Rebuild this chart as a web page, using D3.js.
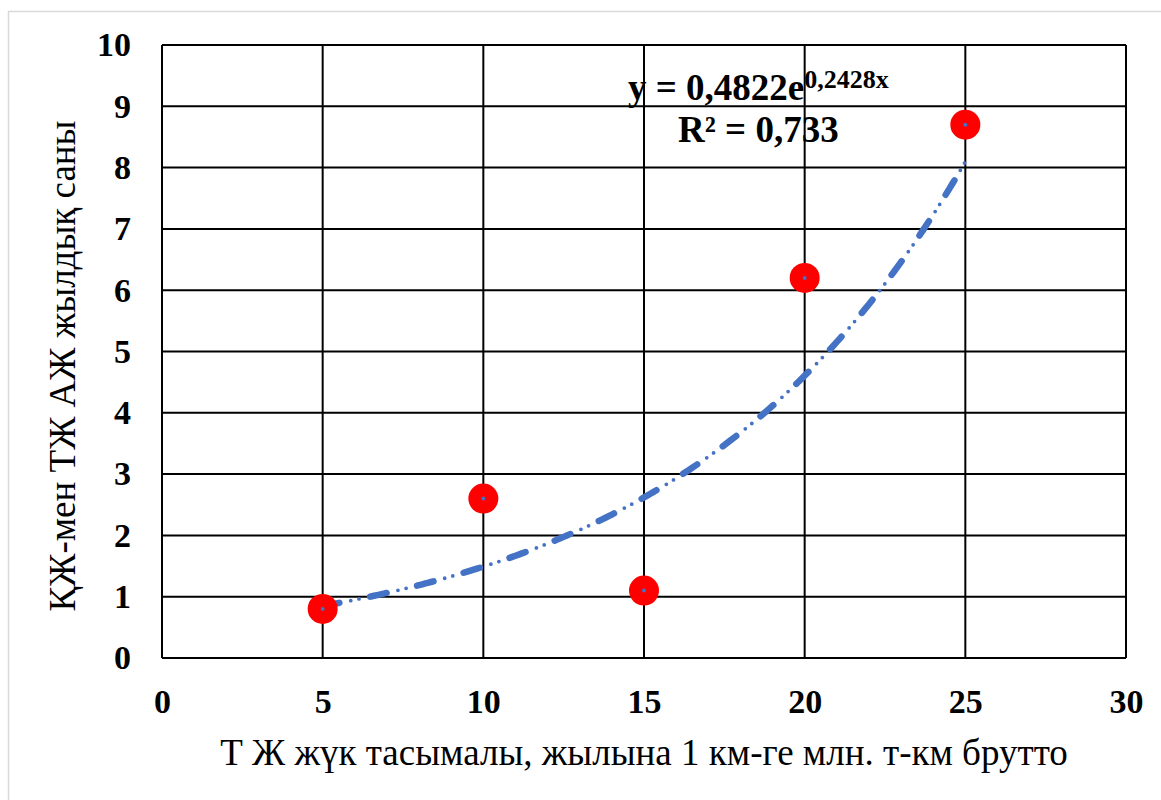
<!DOCTYPE html>
<html lang="kk">
<head>
  <meta charset="utf-8" />
  <title>ҚЖ-мен ТЖ АЖ жылдық саны</title>
  <script src="https://cdn.jsdelivr.net/npm/d3@7"></script>
  <style>
body{
  margin: 0;
  background: #ffffff;
}
svg text{
  font-family: "Liberation Serif", Tinos, "Times New Roman", Times, "DejaVu Serif", serif;
  fill: #000000;
}
  </style>
</head>
<body>
  <svg id="chart"></svg>
  <script>
  // data
  const xValues = [5, 10, 15, 20, 25];
  const yValues = [0.8, 2.6, 1.1, 6.2, 8.7];
  const xTicks = [0, 5, 10, 15, 20, 25, 30];
  const yTicks = [0, 1, 2, 3, 4, 5, 6, 7, 8, 9, 10];
  const equationMain = 'y = 0,4822e';
  const equationExp = '0,2428x';
  const rSquaredText = '0,733';
  const xTitle = 'Т Ж жүк тасымалы, жылына 1 км-ге млн. т-км брутто';
  const yTitle = 'ҚЖ-мен ТЖ АЖ жылдық саны';

  const width = 1161, height = 800;
  const margin = {top: 45, right: 35, bottom: 142, left: 162};

  const svg = d3.select('#chart')
      .attr('width', width)
      .attr('height', height);

  // light chart-area frame, runs off the right and bottom edges
  svg.append('rect')
      .attr('x', 8.5).attr('y', 11.5)
      .attr('width', width + 50).attr('height', height + 50)
      .attr('fill', '#ffffff')
      .attr('stroke', '#d9d9d9')
      .attr('stroke-width', 1.5);

  const x = d3.scaleLinear().domain([0, 30]).range([margin.left, width - margin.right]);
  const y = d3.scaleLinear().domain([0, 10]).range([height - margin.bottom, margin.top]);

  // grid
  const grid = svg.append('g')
      .attr('stroke', '#000000')
      .attr('stroke-width', 2);

  grid.selectAll('line.v')
    .data(xTicks)
    .enter().append('line')
      .attr('class', 'v')
      .attr('x1', d => x(d)).attr('x2', d => x(d))
      .attr('y1', y(0)).attr('y2', y(10));

  grid.selectAll('line.h')
    .data(yTicks)
    .enter().append('line')
      .attr('class', 'h')
      .attr('x1', x(0)).attr('x2', x(30))
      .attr('y1', d => y(d)).attr('y2', d => y(d));

  // tick labels
  const xAxis = svg.append('g')
      .attr('transform', `translate(0,${y(0)})`)
      .call(d3.axisBottom(x).tickValues(xTicks).tickSize(0).tickPadding(31));
  xAxis.select('.domain').remove();
  xAxis.selectAll('text')
      .attr('font-size', 34)
      .attr('font-weight', 'bold');

  const yAxis = svg.append('g')
      .attr('transform', `translate(${x(0)},0)`)
      .call(d3.axisLeft(y).tickValues(yTicks).tickSize(0).tickPadding(31));
  yAxis.select('.domain').remove();
  yAxis.selectAll('text')
      .attr('font-size', 34)
      .attr('font-weight', 'bold');

  // exponential least-squares trend through the points
  const lnY = yValues.map(v => Math.log(v));
  const mx = d3.mean(xValues), my = d3.mean(lnY);
  const b = d3.sum(xValues, (v, i) => (v - mx) * (lnY[i] - my)) / d3.sum(xValues, v => (v - mx) * (v - mx));
  const a = Math.exp(my - b * mx);
  const trend = d3.range(xValues[0], xValues[xValues.length - 1] + 0.01, 0.1)
      .map(v => [v, a * Math.exp(b * v)]);

  const trendLine = d3.line().x(d => x(d[0])).y(d => y(d[1]));

  svg.append('path')
      .datum(trend)
      .attr('d', trendLine)
      .attr('fill', 'none')
      .attr('stroke', '#4472c4')
      .attr('stroke-width', 6.5)
      .attr('stroke-linecap', 'round')
      .attr('stroke-dasharray', '17 31.3');

  svg.append('path')
      .datum(trend)
      .attr('d', trendLine)
      .attr('fill', 'none')
      .attr('stroke', '#4472c4')
      .attr('stroke-width', 3.8)
      .attr('stroke-linecap', 'round')
      .attr('stroke-dasharray', '0 28.6 0 8.4 0 11.3');

  // markers
  const pts = svg.append('g')
    .selectAll('g')
    .data(xValues.map((v, i) => [v, yValues[i]]))
    .enter().append('g');

  pts.append('circle')
      .attr('cx', d => x(d[0]))
      .attr('cy', d => y(d[1]))
      .attr('r', 15)
      .attr('fill', '#ff0000');

  pts.append('circle')
      .attr('cx', d => x(d[0]))
      .attr('cy', d => y(d[1]))
      .attr('r', 2)
      .attr('fill', '#4472c4');

  // trendline label
  const eq = svg.append('text')
      .attr('x', 628)
      .attr('y', 100)
      .attr('font-size', 37)
      .attr('font-weight', 'bold');
  eq.append('tspan').text(equationMain);
  eq.append('tspan')
      .attr('dy', -12)
      .attr('font-size', 26)
      .text(equationExp);

  svg.append('text')
      .attr('x', 678)
      .attr('y', 142)
      .attr('font-size', 37)
      .attr('font-weight', 'bold')
      .text('R² = ' + rSquaredText);

  // axis titles
  svg.append('text')
      .attr('x', (x(0) + x(30)) / 2)
      .attr('y', 765)
      .attr('text-anchor', 'middle')
      .attr('font-size', 37)
      .text(xTitle);

  svg.append('text')
      .attr('transform', 'translate(75,366) rotate(-90)')
      .attr('text-anchor', 'middle')
      .attr('font-size', 37)
      .text(yTitle);
  </script>
</body>
</html>
